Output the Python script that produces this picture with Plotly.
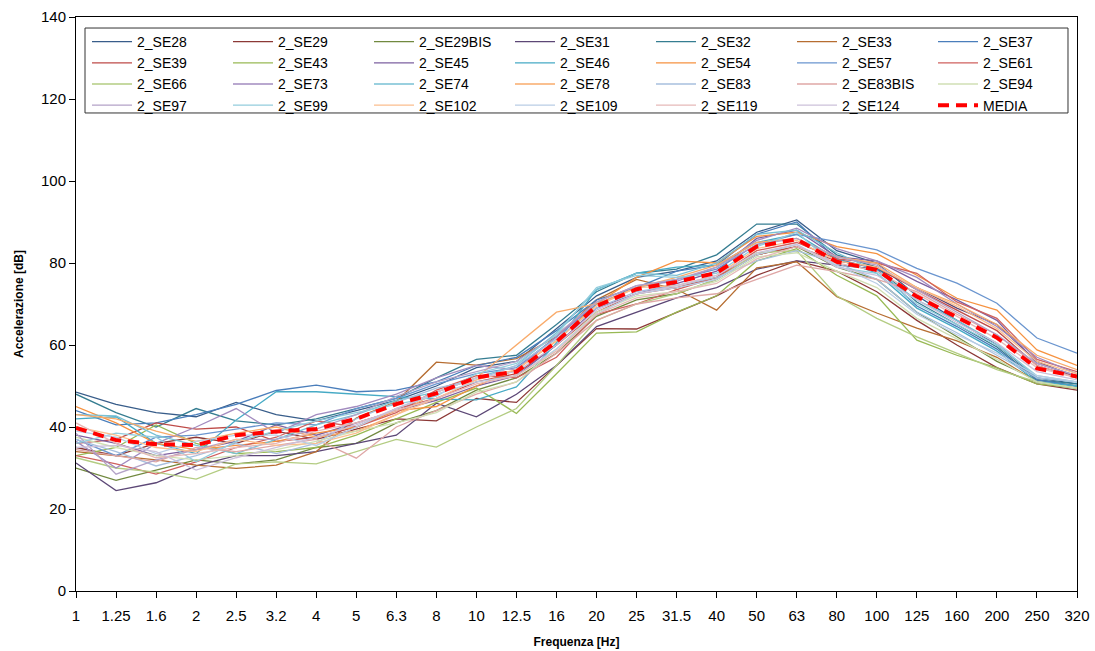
import plotly.graph_objects as go

# One-third octave band centre frequencies (Hz)
freq_labels = ["1", "1.25", "1.6", "2", "2.5", "3.2", "4", "5", "6.3", "8", "10", "12.5",
               "16", "20", "25", "31.5", "40", "50", "63", "80", "100", "125", "160",
               "200", "250", "320"]

# Acceleration levels (dB) per measurement point
se28 = [48.5, 45.5, 43.5, 42.5, 46.0, 43.0, 41.5, 44.0, 46.5, 50.0, 54.5, 56.0, 64.0, 72.0, 76.5, 78.0, 80.5, 87.5, 90.5, 83.0, 80.0, 72.0, 66.0, 60.0, 52.0, 50.5]
se29 = [35.0, 33.0, 36.0, 37.5, 36.0, 39.0, 37.0, 39.5, 42.0, 41.5, 47.0, 46.0, 55.0, 64.0, 63.9, 68.0, 72.0, 77.0, 80.5, 78.0, 73.0, 66.0, 60.0, 54.5, 50.5, 49.0]
se29bis = [30.0, 27.0, 29.5, 32.0, 31.0, 32.0, 35.0, 36.0, 41.0, 44.0, 49.0, 52.0, 58.0, 67.0, 71.0, 72.5, 76.0, 82.0, 84.0, 79.0, 76.0, 68.0, 62.0, 56.0, 51.5, 50.0]
se31 = [31.2, 24.5, 26.4, 30.5, 33.0, 33.0, 34.0, 36.0, 38.0, 45.8, 42.5, 48.0, 55.0, 64.5, 68.0, 71.5, 74.0, 78.5, 80.5, 79.5, 78.5, 74.0, 69.0, 65.0, 56.0, 52.0]
se32 = [48.0, 43.5, 40.0, 44.5, 41.5, 40.5, 42.0, 44.5, 47.0, 52.0, 56.5, 57.5, 65.0, 73.0, 77.5, 78.5, 82.0, 89.5, 89.5, 82.0, 79.0, 70.5, 65.0, 59.5, 51.5, 50.5]
se33 = [34.0, 33.0, 32.0, 30.7, 29.9, 30.7, 34.0, 42.2, 46.2, 55.8, 55.1, 56.7, 62.0, 71.0, 76.0, 73.6, 68.5, 78.8, 80.3, 71.8, 67.8, 64.1, 61.0, 57.0, 51.0, 49.5]
se37 = [44.0, 40.5, 41.0, 43.0, 45.5, 48.9, 50.2, 48.6, 49.0, 51.0, 55.0, 57.0, 63.5, 71.0, 74.0, 78.0, 79.5, 87.0, 90.0, 81.0, 78.5, 69.5, 64.5, 59.0, 51.5, 50.0]
se39 = [36.0, 37.0, 41.0, 39.5, 40.0, 36.5, 37.5, 40.0, 44.5, 47.0, 51.0, 53.0, 60.0, 68.0, 72.5, 74.0, 76.5, 82.0, 84.0, 80.5, 79.0, 73.5, 68.5, 63.5, 55.0, 52.0]
se43 = [33.0, 35.0, 40.5, 36.0, 33.5, 34.0, 35.0, 38.0, 42.0, 46.0, 49.5, 43.3, 53.0, 62.9, 63.2, 68.0, 72.0, 80.5, 83.5, 77.0, 72.0, 61.2, 57.5, 54.4, 50.5, 49.5]
se45 = [38.0, 36.0, 33.0, 34.5, 36.5, 40.5, 38.0, 41.0, 44.0, 46.5, 50.0, 52.5, 60.0, 69.0, 72.5, 75.0, 78.0, 86.0, 88.0, 81.5, 80.5, 75.5, 71.0, 66.0, 55.5, 52.5]
se46 = [42.0, 42.5, 36.0, 33.5, 41.7, 48.6, 48.6, 48.0, 47.4, 46.8, 46.6, 49.8, 60.5, 73.5, 77.5, 79.0, 79.5, 85.0, 87.0, 81.0, 77.5, 69.0, 64.0, 58.5, 51.0, 50.0]
se54 = [45.0, 41.0, 36.0, 34.5, 35.5, 36.5, 38.5, 40.0, 44.0, 45.0, 50.0, 54.0, 61.0, 70.0, 76.5, 80.5, 80.0, 86.5, 87.5, 84.0, 82.3, 77.0, 71.4, 68.5, 58.8, 55.0]
se57 = [37.0, 33.0, 37.5, 38.0, 39.5, 41.0, 40.5, 44.5, 47.0, 50.5, 53.0, 54.5, 62.0, 70.0, 74.0, 76.0, 78.5, 84.5, 87.0, 85.2, 83.2, 78.7, 75.1, 70.2, 61.7, 58.0]
se61 = [33.0, 31.0, 28.5, 31.5, 35.0, 37.5, 41.5, 40.0, 43.5, 49.0, 52.5, 52.0, 57.0, 67.5, 70.0, 73.5, 76.5, 83.0, 85.0, 81.0, 80.0, 77.5, 70.5, 66.5, 56.5, 53.5]
se66 = [32.5, 30.0, 29.0, 27.3, 31.0, 31.5, 31.0, 34.0, 37.0, 35.1, 40.0, 44.5, 55.0, 66.0, 70.0, 72.5, 76.0, 82.5, 83.0, 72.0, 66.5, 62.0, 58.0, 54.0, 51.0, 49.5]
se73 = [36.5, 30.0, 36.0, 40.0, 44.5, 38.5, 43.0, 45.0, 48.0, 52.0, 55.0, 54.0, 62.0, 70.5, 74.5, 75.5, 79.0, 85.5, 88.5, 83.5, 80.5, 76.5, 70.0, 64.5, 57.0, 53.0]
se74 = [43.0, 42.7, 38.0, 35.5, 33.5, 37.0, 40.5, 43.0, 46.5, 48.5, 52.0, 55.0, 63.0, 73.5, 77.5, 77.0, 80.0, 87.0, 88.0, 82.5, 78.0, 71.0, 66.0, 60.5, 52.0, 51.0]
se78 = [43.0, 42.0, 39.0, 36.5, 38.5, 40.0, 37.5, 39.0, 43.0, 48.5, 52.0, 60.0, 68.0, 70.0, 74.0, 76.5, 79.5, 85.0, 86.0, 81.5, 80.0, 74.0, 70.0, 65.0, 57.5, 54.0]
se83 = [37.0, 34.0, 30.5, 33.0, 36.0, 33.5, 36.0, 42.0, 46.0, 49.5, 51.5, 55.0, 61.5, 69.0, 73.0, 74.5, 76.5, 80.5, 83.0, 80.0, 76.0, 68.0, 63.0, 57.5, 52.0, 51.0]
se83bis = [34.5, 33.0, 31.5, 35.0, 34.0, 35.5, 37.0, 32.4, 40.0, 44.0, 48.0, 51.0, 58.0, 66.0, 70.0, 71.5, 72.5, 76.0, 79.5, 77.9, 76.0, 73.0, 67.5, 62.5, 55.0, 52.0]
se94 = [37.5, 35.0, 33.0, 32.0, 33.0, 34.5, 36.5, 39.0, 41.0, 43.5, 48.5, 51.0, 59.0, 68.0, 72.0, 73.0, 75.5, 81.5, 82.5, 78.0, 74.0, 66.5, 61.5, 56.5, 51.0, 49.5]
se97 = [38.5, 28.5, 32.0, 34.5, 37.0, 37.0, 39.5, 43.0, 47.5, 51.0, 53.5, 56.0, 62.5, 70.5, 74.5, 76.0, 79.0, 84.5, 86.0, 81.5, 79.5, 73.5, 68.0, 62.5, 55.5, 52.5]
se99 = [36.0, 38.5, 37.5, 31.5, 36.5, 39.0, 41.5, 43.5, 45.5, 47.5, 53.0, 55.5, 62.5, 74.0, 77.0, 76.5, 77.5, 84.0, 87.5, 79.0, 77.5, 70.0, 65.0, 60.0, 52.5, 51.0]
se102 = [40.0, 38.0, 35.0, 34.0, 37.0, 35.5, 36.0, 38.5, 43.0, 47.0, 51.5, 54.0, 61.0, 69.5, 74.0, 74.5, 77.0, 83.5, 85.5, 80.5, 79.0, 74.0, 69.5, 64.0, 56.0, 53.0]
se109 = [39.0, 37.5, 33.5, 36.5, 38.0, 38.0, 35.5, 40.0, 44.5, 48.0, 51.0, 52.5, 59.0, 67.5, 72.5, 74.0, 76.0, 82.0, 84.5, 79.5, 75.0, 67.5, 62.5, 58.0, 52.5, 51.0]
se119 = [41.0, 36.0, 32.5, 33.5, 35.0, 36.0, 39.0, 41.0, 44.0, 47.0, 50.5, 52.5, 58.5, 67.5, 71.5, 73.0, 75.0, 81.0, 84.0, 80.0, 78.0, 72.5, 67.0, 61.5, 54.5, 52.0]
se124 = [35.0, 35.5, 34.0, 29.5, 32.5, 35.0, 37.5, 40.5, 44.5, 48.5, 52.0, 53.5, 60.0, 68.5, 72.5, 74.5, 77.0, 82.5, 84.5, 79.0, 77.0, 71.0, 65.5, 60.5, 53.5, 51.5]

# Average spectrum
media = [39.8, 36.8, 35.8, 35.6, 38.0, 38.9, 39.5, 42.0, 45.6, 48.2, 52.1, 53.5, 60.8, 69.5, 73.6, 75.4, 77.6, 84.0, 85.8, 80.3, 78.3, 71.8, 66.8, 61.8, 54.3, 52.3]

series = [
    ("2_SE28", se28, "#385D8A"),
    ("2_SE29", se29, "#8C3836"),
    ("2_SE29BIS", se29bis, "#71893F"),
    ("2_SE31", se31, "#5C4776"),
    ("2_SE32", se32, "#357D91"),
    ("2_SE33", se33, "#B66D31"),
    ("2_SE37", se37, "#4A7EBB"),
    ("2_SE39", se39, "#BE4B48"),
    ("2_SE43", se43, "#98B954"),
    ("2_SE45", se45, "#7D60A0"),
    ("2_SE46", se46, "#46AAC5"),
    ("2_SE54", se54, "#F69240"),
    ("2_SE57", se57, "#6A95CF"),
    ("2_SE61", se61, "#CF615E"),
    ("2_SE66", se66, "#B3CC82"),
    ("2_SE73", se73, "#A28BBF"),
    ("2_SE74", se74, "#78C0D4"),
    ("2_SE78", se78, "#F9AB6B"),
    ("2_SE83", se83, "#A7BFDE"),
    ("2_SE83BIS", se83bis, "#DFA7A6"),
    ("2_SE94", se94, "#D0DFB4"),
    ("2_SE97", se97, "#B3A2C7"),
    ("2_SE99", se99, "#93CDDD"),
    ("2_SE102", se102, "#FBBE8E"),
    ("2_SE109", se109, "#B9CDE5"),
    ("2_SE119", se119, "#E6B9B8"),
    ("2_SE124", se124, "#CCC1DA"),
]

fig = go.Figure()
for name, vals, color in series:
    fig.add_trace(go.Scatter(
        x=freq_labels, y=vals, name=name, mode="lines",
        line=dict(color=color, width=1.3),
    ))

fig.add_trace(go.Scatter(
    x=freq_labels, y=media, name="MEDIA", mode="lines",
    line=dict(color="#FF0000", width=4, dash="11px,7px"),
))

axis_font = "Liberation Sans, Arial, sans-serif"

# Framed white panel behind the legend entries
fig.add_shape(
    type="rect", xref="paper", yref="paper",
    x0=0.009, x1=0.991, y0=0.8328, y1=0.9808,
    line=dict(color="#333333", width=1), fillcolor="white", layer="above",
)

fig.update_layout(
    width=1095, height=651,
    margin=dict(l=76, r=18, t=17, b=60, autoexpand=False),
    paper_bgcolor="white",
    plot_bgcolor="white",
    font=dict(family=axis_font, color="black"),
    showlegend=True,
    legend=dict(
        orientation="h",
        x=0.011, y=0.9843, xanchor="left", yanchor="top",
        entrywidth=86,
        itemwidth=40,
        bgcolor="rgba(0,0,0,0)",
        borderwidth=0,
        font=dict(family=axis_font, size=14, color="black"),
        traceorder="normal",
    ),
    xaxis=dict(
        type="category",
        range=[0, len(freq_labels) - 1],
        automargin=False,
        showgrid=False,
        showline=True, linecolor="black", linewidth=1, mirror=True,
        ticks="outside", ticklen=6, tickcolor="black",
        tickfont=dict(family="Liberation Sans Narrow, Arial Narrow, sans-serif", size=15),
        ticklabelstandoff=5,
        title=dict(text="<b>Frequenza [Hz]</b>", font=dict(family=axis_font, size=12), standoff=14),
        zeroline=False,
    ),
    yaxis=dict(
        range=[0, 140], dtick=20,
        automargin=False,
        showgrid=False,
        showline=True, linecolor="black", linewidth=1, mirror=True,
        ticks="outside", ticklen=6, tickcolor="black",
        tickfont=dict(family=axis_font, size=15),
        title=dict(text="<b>Accelerazione [dB]</b>", font=dict(family=axis_font, size=12), standoff=14),
        zeroline=False,
    ),
)

fig.write_html("out.html")
